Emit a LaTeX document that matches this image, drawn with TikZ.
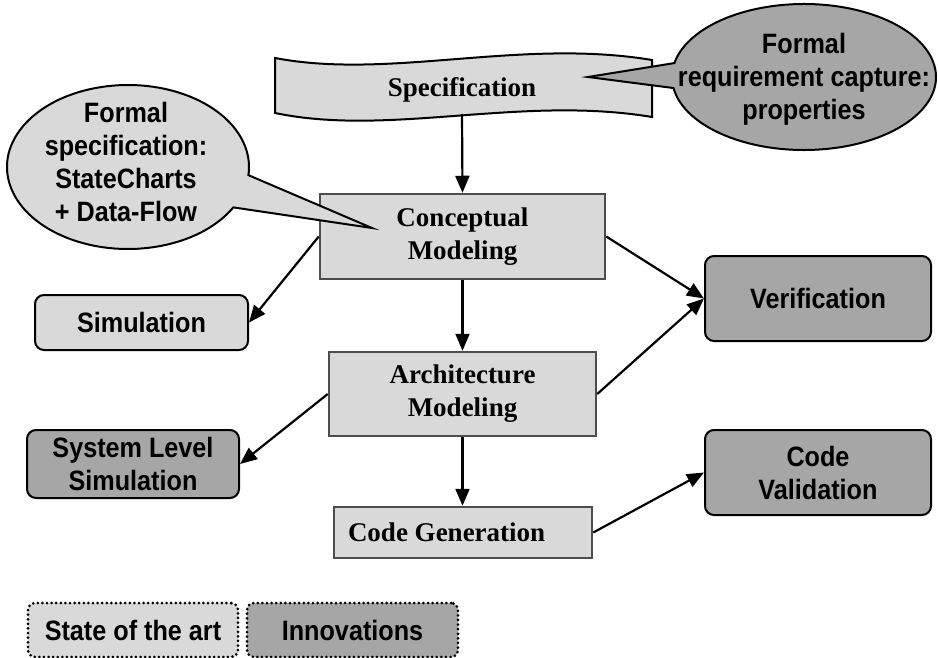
\documentclass[tikz,border=0pt]{standalone}
\usepackage{fontspec}
\setmainfont{Liberation Serif}
\newfontfamily\sfc[FakeStretch=0.9]{Liberation Sans}
\usetikzlibrary{arrows.meta}
\definecolor{lightfill}{HTML}{D9D9D9}
\definecolor{darkfill}{HTML}{A6A6A6}
\definecolor{rectborder}{HTML}{4D4D4D}
\begin{document}
\begin{tikzpicture}[x=1pt,y=-1pt,
  serif/.style={font=\fontsize{27}{33}\selectfont\bfseries, align=center},
  sans/.style={font=\sfc\fontsize{28}{33}\selectfont\bfseries, align=center},
  sqbox/.style={serif, draw=rectborder, line width=2.5pt, fill=lightfill, inner sep=0pt},
  rbox/.style={sans, draw=black, line width=2pt, rounded corners=9pt, inner sep=0pt},
  legbox/.style={sans, draw=black, line width=3pt, dash pattern=on 0pt off 4.6pt, line cap=round, rounded corners=7pt, inner sep=0pt},
  arr/.style={line width=2.2pt, -{Triangle[length=17pt,width=14pt]}},
  outline/.style={draw=black, line width=2pt, line join=miter}
]
\useasboundingbox (0,0) rectangle (938,658);
\fill[white] (0,0) rectangle (938,658);

% banner
\draw[outline, fill=lightfill] (275,58) .. controls (390,80) and (520,38) .. (652,60) -- (652,117) .. controls (520,95) and (390,137) .. (275,113) -- cycle;
\node[serif] (spec) at (462,90) {Specification};
\coordinate (specB) at (462,114);

% main boxes
\node[sqbox, minimum width=285pt, minimum height=85pt] (conc) at (462.5,236.5) {Conceptual\\Modeling};
\node[sqbox, minimum width=267pt, minimum height=84pt] (arch) at (462.5,394) {Architecture\\Modeling};
\node[sqbox, minimum width=258pt, minimum height=51pt] (cg) at (463,532.5) {\makebox[230pt][l]{Code Generation}};

\node[rbox, fill=darkfill, minimum width=226pt, minimum height=85pt] (ver) at (818,298.5) {Verification};
\node[rbox, fill=darkfill, minimum width=226pt, minimum height=85pt] (cv) at (818,472.5) {Code\\Validation};
\node[rbox, fill=lightfill, minimum width=213pt, minimum height=55pt] (sim) at (141.5,322.5) {Simulation};
\node[rbox, fill=darkfill, minimum width=212pt, minimum height=68pt] (sys) at (133,464) {System Level\\Simulation};

% arrows
\draw[arr] (specB) -- (conc.north);
\draw[arr] (conc.south) -- (arch.north);
\draw[arr] (arch.south) -- (arch.south |- cg.north);
\draw[arr] (conc.west) -- (sim.east);
\draw[arr] (arch.west) -- (sys.east);
\draw[arr] (conc.east) -- (ver.west);
\draw[arr] (arch.east) -- (ver.west);
\draw[arr] (cg.east) -- (cv.west);

% callouts
\draw[outline, fill=lightfill] (372,228) -- (233.31,207.38) arc[start angle=-29.5, end angle=-365.7, x radius=121pt, y radius=82pt] -- cycle;
\node[sans] (fspec) at (126,162) {Formal\\specification:\\StateCharts\\+ Data-Flow};

\draw[outline, fill=darkfill] (588,77) -- (673.52,88.04) arc[start angle=-171.3, end angle=169, x radius=132pt, y radius=73pt] -- cycle;
\node[sans] (freq) at (804,79) {Formal\\requirement capture:\\properties};

% legend
\node[legbox, fill=lightfill, minimum width=210pt, minimum height=54pt] (leg1) at (133,630) {State of the art};
\node[legbox, fill=darkfill, minimum width=211pt, minimum height=54pt] (leg2) at (352.5,630) {Innovations};
\end{tikzpicture}
\end{document}
